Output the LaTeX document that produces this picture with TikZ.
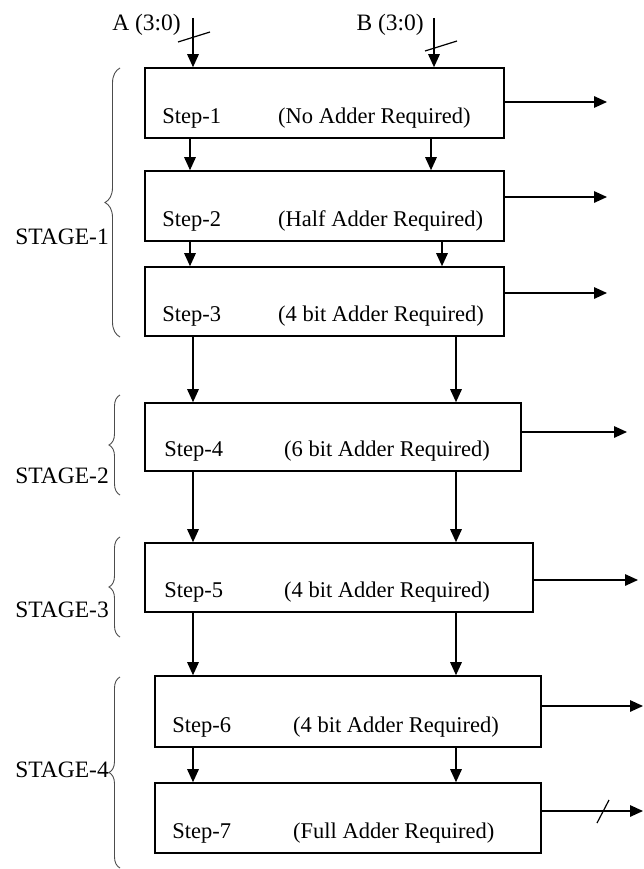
\documentclass[tikz,border=0pt]{standalone}
\usepackage{fontspec}
\setmainfont{Liberation Serif}
\usetikzlibrary{arrows.meta, positioning, decorations.pathreplacing}

\tikzset{
  stepbox/.style={draw, line width=1.6pt, minimum height=70pt, inner sep=0pt},
  txt/.style={font=\fontsize{22.5}{26}\selectfont, inner sep=0pt, anchor=base west},
  stagetxt/.style={font=\fontsize{23.5}{27}\selectfont, inner sep=0pt, anchor=east},
  stagebrace/.style={decorate, decoration={brace, amplitude=#1}, line width=0.9pt, black!70},
  flow/.style={->, line width=1.5pt},
  bus/.style={line width=1.2pt},
  >={Triangle[length=13pt, width=11.5pt]}
}

\begin{document}
\begin{tikzpicture}[x=1pt, y=-1pt]
\useasboundingbox (0,0) rectangle (644,869);

% boxes
\node[stepbox, minimum width=359pt] (s1) at (324.5,103) {};
\node[stepbox, minimum width=359pt] (s2) at (324.5,206) {};
\node[stepbox, minimum width=359pt, minimum height=69pt] (s3) at (324.5,301.5) {};
\node[stepbox, minimum width=376pt, minimum height=68pt] (s4) at (333,437) {};
\node[stepbox, minimum width=388pt, minimum height=69pt] (s5) at (339,577.5) {};
\node[stepbox, minimum width=386pt, minimum height=71pt] (s6) at (348,711.5) {};
\node[stepbox, minimum width=386pt] (s7) at (348,818) {};

% box texts
\node[txt] (k1) at ([shift={(18,-15)}]s1.south west) {Step-1};
\node[txt] (k2) at ([shift={(18,-15)}]s2.south west) {Step-2};
\node[txt] (k3) at ([shift={(18,-15)}]s3.south west) {Step-3};
\node[txt] (k4) at ([shift={(20,-15)}]s4.south west) {Step-4};
\node[txt] (k5) at ([shift={(20,-15)}]s5.south west) {Step-5};
\node[txt] (k6) at ([shift={(18,-15)}]s6.south west) {Step-6};
\node[txt] (k7) at ([shift={(18,-15)}]s7.south west) {Step-7};
\coordinate (x1) at (278,0);
\coordinate (x2) at (284,0);
\coordinate (x3) at (293,0);
\node[txt] (r1) at (k1.base -| x1) {(No Adder Required)};
\node[txt] (r2) at (k2.base -| x1) {(Half Adder Required)};
\node[txt] (r3) at (k3.base -| x1) {(4 bit Adder Required)};
\node[txt] (r4) at (k4.base -| x2) {(6 bit Adder Required)};
\node[txt] (r5) at (k5.base -| x2) {(4 bit Adder Required)};
\node[txt] (r6) at (k6.base -| x3) {(4 bit Adder Required)};
\node[txt] (r7) at (k7.base -| x3) {(Full Adder Required)};

% inputs
\node[stagetxt] (la) at (181,25) {A (3:0)};
\node[stagetxt] (lb) at (424,25) {B (3:0)};
\coordinate (ina) at (193,18);
\coordinate (inb) at (434,18);
\draw[flow] (ina) -- (ina |- s1.north);
\draw[flow] (inb) -- (inb |- s1.north);
\draw[bus] ([shift={(-15,24)}]ina) -- ([shift={(17,14)}]ina);
\draw[bus] ([shift={(-9,33)}]inb) -- ([shift={(23,23)}]inb);

% columns between boxes
\coordinate (ca) at (190,0);
\coordinate (cb) at (193,0);
\coordinate (cr1) at (431,0);
\coordinate (cr2) at (442,0);
\coordinate (cr3) at (456,0);
\draw[flow] (s1.south -| ca) -- (s2.north -| ca);
\draw[flow] (s1.south -| cr1) -- (s2.north -| cr1);
\draw[flow] (s2.south -| ca) -- (s3.north -| ca);
\draw[flow] (s2.south -| cr2) -- (s3.north -| cr2);
\draw[flow] (s3.south -| cb) -- (s4.north -| cb);
\draw[flow] (s3.south -| cr3) -- (s4.north -| cr3);
\draw[flow] (s4.south -| cb) -- (s5.north -| cb);
\draw[flow] (s4.south -| cr3) -- (s5.north -| cr3);
\draw[flow] (s5.south -| cb) -- (s6.north -| cb);
\draw[flow] (s5.south -| cr3) -- (s6.north -| cr3);
\draw[flow] (s6.south -| cb) -- (s7.north -| cb);
\draw[flow] (s6.south -| cr3) -- (s7.north -| cr3);

% outputs
\coordinate (o1) at (607,102);
\coordinate (o2) at (607,197);
\coordinate (o3) at (607,293);
\coordinate (o4) at (627,432);
\coordinate (o5) at (638,580);
\coordinate (o6) at (643,706);
\coordinate (o7) at (643,811);
\draw[flow] (s1.east |- o1) -- (o1);
\draw[flow] (s2.east |- o2) -- (o2);
\draw[flow] (s3.east |- o3) -- (o3);
\draw[flow] (s4.east |- o4) -- (o4);
\draw[flow] (s5.east |- o5) -- (o5);
\draw[flow] (s6.east |- o6) -- (o6);
\draw[flow] (s7.east |- o7) -- (o7);
\draw[bus] ([shift={(-46,12)}]o7) -- ([shift={(-34,-11)}]o7);

% stages
\coordinate (b1t) at (120,68);
\coordinate (b1b) at (120,337);
\coordinate (b2t) at (120,395);
\coordinate (b2b) at (120,495);
\coordinate (b3t) at (120,537);
\coordinate (b3b) at (120,637);
\coordinate (b4t) at (120,677);
\coordinate (b4b) at (120,868);
\draw[stagebrace=15pt] (b1b) -- (b1t);
\draw[stagebrace=11pt] (b2b) -- (b2t);
\draw[stagebrace=11pt] (b3b) -- (b3t);
\draw[stagebrace=11pt] (b4b) -- (b4t);
\node[stagetxt] (g1) at (109,237) {STAGE-1};
\node[stagetxt] (g2) at (109,476) {STAGE-2};
\node[stagetxt] (g3) at (109,610) {STAGE-3};
\node[stagetxt] (g4) at (109,770) {STAGE-4};
\end{tikzpicture}
\end{document}
